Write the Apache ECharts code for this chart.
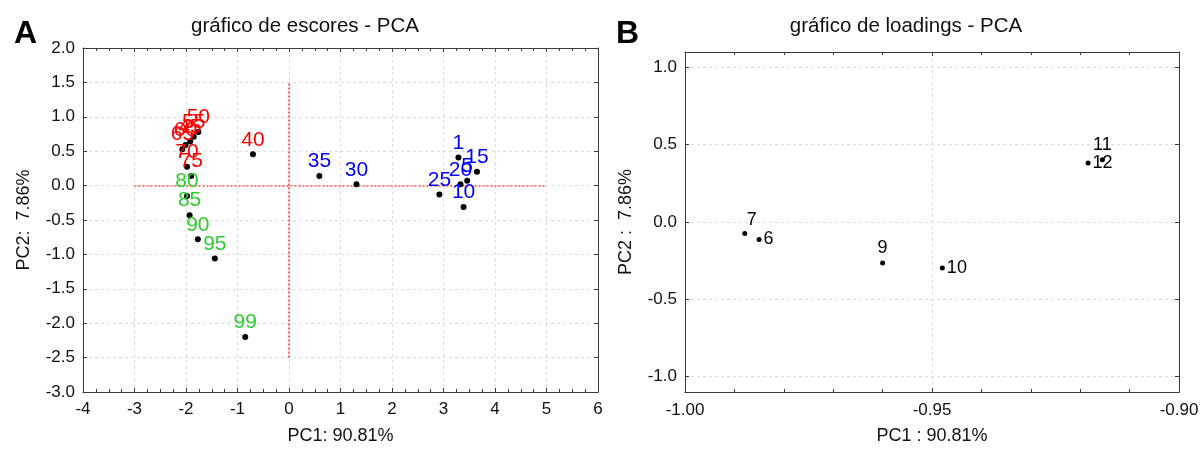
<!DOCTYPE html>
<html>
<head>
<meta charset="utf-8">
<script src="https://cdn.jsdelivr.net/npm/echarts@6/dist/echarts.min.js"></script>
<style>
  html, body { margin: 0; padding: 0; background: #fff; }
  #chart { width: 1203px; height: 450px; }
</style>
</head>
<body>
<div id="chart"></div>
<script>
// Scores (PC1, PC2) grouped by sample colour
const blueNames = ['1', '5', '10', '15', '20', '25', '30', '35'];
const blueX = [3.29, 3.46, 3.39, 3.65, 3.33, 2.92, 1.31, 0.59];
const blueY = [0.41, 0.07, -0.31, 0.20, 0.02, -0.13, 0.02, 0.14];

const redNames = ['40', '45', '50', '55', '60', '65', '70', '75'];
const redX = [-0.70, -1.92, -1.76, -1.85, -2.01, -2.07, -1.98, -1.90];
const redY = [0.455, 0.64, 0.78, 0.71, 0.59, 0.53, 0.275, 0.14];

const greenNames = ['80', '85', '90', '95', '99'];
const greenX = [-1.98, -1.93, -1.77, -1.44, -0.85];
const greenY = [-0.15, -0.43, -0.78, -1.06, -2.20];

// Loadings (PC1, PC2)
const loadNames = ['7', '6', '9', '10', '11', '12'];
const loadX = [-0.9879, -0.9850, -0.9600, -0.9479, -0.9155, -0.9184];
const loadY = [-0.074, -0.113, -0.265, -0.297, 0.403, 0.382];
const loadLabelPos = ['topRight', 'right', 'top', 'right', 'top', 'right'];

// Axis ticks
const scoreXTicks = [-4, 6, 1];
const scoreYTicks = [-3, 2, 0.5];
const loadXTicks = [-1.0, -0.9, 0.05];
const loadYRange = [-1.1, 1.1];
const loadYLabels = [-1.0, -0.5, 0.0, 0.5, 1.0];

// Dotted origin guides on the score plot: [x1, y1, x2, y2]
const guideH = [-3, 0, 5, 0];
const guideV = [0, -2.5, 0, 1.5];

const FONT = 'Liberation Sans, Arial, sans-serif';
const AXIS_COLOR = '#3a3a3a';
const GRID_COLOR = '#dddddd';
const TEXT_COLOR = '#111';
const GUIDE_COLOR = '#ff0000';

function zip(xs, ys, names) {
  return xs.map((x, i) => [x, ys[i], names[i]]);
}

function boxAxis(extra) {
  return Object.assign({
    type: 'value',
    axisLine: { show: true, onZero: false, lineStyle: { color: AXIS_COLOR, width: 1 } },
    axisTick: { show: true, inside: true, length: 4, lineStyle: { color: AXIS_COLOR } },
    axisLabel: { show: false },
    splitLine: { show: false }
  }, extra);
}

const gridLine = { show: true, lineStyle: { color: GRID_COLOR, type: [3, 3], width: 1 } };
const tickLabel = { show: true, color: TEXT_COLOR, fontFamily: FONT, fontSize: 17 };
const axisName = { fontFamily: FONT, fontSize: 18, color: TEXT_COLOR };

function scoreSeries(names, xs, ys, color) {
  return {
    type: 'scatter',
    xAxisIndex: 0, yAxisIndex: 0,
    symbolSize: 6,
    itemStyle: { color: '#000', opacity: 1 },
    data: zip(xs, ys, names),
    label: {
      show: true, position: 'top', distance: 1, color: color,
      fontFamily: FONT, fontSize: 21, opacity: 1,
      formatter: p => p.data[2]
    },
    emphasis: { disabled: true },
    z: 5
  };
}

// Guide segments drawn straight through the axis scales
const guideSeries = {
  type: 'custom',
  xAxisIndex: 0, yAxisIndex: 0,
  silent: true,
  data: [guideH, guideV],
  encode: { x: [0, 2], y: [1, 3] },
  renderItem: (params, api) => {
    const p1 = api.coord([api.value(0), api.value(1)]);
    const p2 = api.coord([api.value(2), api.value(3)]);
    const horizontal = api.value(1) === api.value(3);
    return {
      type: 'line',
      shape: horizontal
        ? { x1: p1[0], y1: Math.round(p1[1]), x2: p2[0], y2: Math.round(p2[1]) }
        : { x1: Math.round(p1[0]), y1: p1[1], x2: Math.round(p2[0]), y2: p2[1] },
      style: { stroke: GUIDE_COLOR, lineWidth: 1.2, lineDash: [2, 2], fill: null }
    };
  },
  z: 4
};

const posMap = {
  top: { position: 'top', distance: 3 },
  right: { position: 'right', distance: 2 },
  topRight: { position: 'top', distance: 2, offset: [7, 0] }
};

const loadData = loadX.map((x, i) => ({
  value: [x, loadY[i], loadNames[i]],
  label: posMap[loadLabelPos[i]]
}));

const chart = echarts.init(document.getElementById('chart'));
chart.setOption({
  animation: false,
  backgroundColor: '#fff',
  textStyle: { fontFamily: FONT },
  title: [
    { text: 'A', left: 9, top: 13, textStyle: { fontFamily: FONT, fontSize: 32, fontWeight: 'bold', color: '#000' } },
    { text: 'B', left: 611, top: 13, textStyle: { fontFamily: FONT, fontSize: 32, fontWeight: 'bold', color: '#000' } },
    { text: 'gráfico de escores - PCA', left: 300, top: 11, textAlign: 'center',
      textStyle: { fontFamily: FONT, fontSize: 20.5, fontWeight: 'normal', color: TEXT_COLOR } },
    { text: 'gráfico de loadings - PCA', left: 901, top: 11, textAlign: 'center',
      textStyle: { fontFamily: FONT, fontSize: 20.5, fontWeight: 'normal', color: TEXT_COLOR } }
  ],
  grid: [
    { left: 83, right: 605, top: 48, bottom: 58 },
    { left: 685, right: 24, top: 52, bottom: 58 }
  ],
  xAxis: [
    boxAxis({
      gridIndex: 0, position: 'bottom',
      min: scoreXTicks[0], max: scoreXTicks[1], interval: scoreXTicks[2],
      minorTick: { show: true, splitNumber: 4, length: 3, lineStyle: { color: AXIS_COLOR } },
      axisLabel: Object.assign({ margin: 9 }, tickLabel),
      splitLine: gridLine,
      name: 'PC1: 90.81%', nameLocation: 'middle', nameGap: 35,
      nameTextStyle: axisName
    }),
    boxAxis({
      gridIndex: 0, position: 'top',
      min: scoreXTicks[0], max: scoreXTicks[1], interval: scoreXTicks[2],
      minorTick: { show: true, splitNumber: 4, length: 3, lineStyle: { color: AXIS_COLOR } }
    }),
    boxAxis({
      gridIndex: 1, position: 'bottom',
      min: loadXTicks[0], max: loadXTicks[1], interval: loadXTicks[2],
      minorTick: { show: true, splitNumber: 5, length: 3, lineStyle: { color: AXIS_COLOR } },
      axisLabel: Object.assign({ margin: 10, formatter: v => v.toFixed(2) }, tickLabel),
      splitLine: gridLine,
      name: 'PC1 : 90.81%', nameLocation: 'middle', nameGap: 35,
      nameTextStyle: axisName
    }),
    boxAxis({
      gridIndex: 1, position: 'top',
      min: loadXTicks[0], max: loadXTicks[1], interval: loadXTicks[2],
      minorTick: { show: true, splitNumber: 5, length: 3, lineStyle: { color: AXIS_COLOR } }
    })
  ],
  yAxis: [
    boxAxis({
      gridIndex: 0, position: 'left',
      min: scoreYTicks[0], max: scoreYTicks[1], interval: scoreYTicks[2],
      axisLabel: Object.assign({ margin: 8, formatter: v => v.toFixed(1) }, tickLabel),
      splitLine: gridLine,
      name: 'PC2:  7.86%', nameLocation: 'middle', nameGap: 50,
      nameTextStyle: axisName
    }),
    boxAxis({
      gridIndex: 0, position: 'right',
      min: scoreYTicks[0], max: scoreYTicks[1], interval: scoreYTicks[2]
    }),
    boxAxis({
      gridIndex: 1, position: 'left',
      min: loadYRange[0], max: loadYRange[1],
      axisTick: { show: true, inside: true, length: 4, lineStyle: { color: AXIS_COLOR }, customValues: loadYLabels },
      axisLabel: Object.assign({ margin: 8, customValues: loadYLabels, formatter: v => v.toFixed(1) }, tickLabel),
      splitLine: gridLine,
      name: 'PC2 :  7.86%', nameLocation: 'middle', nameGap: 50,
      nameTextStyle: axisName
    }),
    boxAxis({
      gridIndex: 1, position: 'right',
      min: loadYRange[0], max: loadYRange[1],
      axisTick: { show: true, inside: true, length: 4, lineStyle: { color: AXIS_COLOR }, customValues: loadYLabels }
    })
  ],
  series: [
    guideSeries,
    scoreSeries(blueNames, blueX, blueY, '#0000ff'),
    scoreSeries(redNames, redX, redY, '#ff0000'),
    scoreSeries(greenNames, greenX, greenY, '#2ecc2e'),
    {
      type: 'scatter',
      xAxisIndex: 2, yAxisIndex: 2,
      symbolSize: 5,
      itemStyle: { color: '#000', opacity: 1 },
      data: loadData,
      emphasis: { disabled: true },
      label: { show: true, color: '#000', fontFamily: FONT, fontSize: 18, formatter: p => p.data.value[2] }
    }
  ]
});
</script>
</body>
</html>
